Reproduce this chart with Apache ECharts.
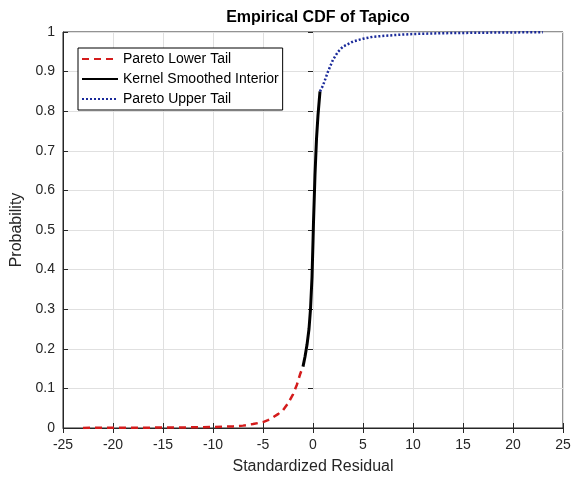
<!DOCTYPE html>
<html>
<head>
<meta charset="utf-8">
<script src="https://cdn.jsdelivr.net/npm/echarts@6/dist/echarts.min.js"></script>
<style>
  html, body { margin: 0; padding: 0; background: #fff; }
  #chart { width: 573px; height: 477px; }
</style>
</head>
<body>
<div id="chart"></div>
<script>
// values: [standardized residual, probability]
const lowerTail = [
  [-23, 0.0003], [-20, 0.0005], [-17, 0.0008], [-14, 0.0012], [-12, 0.0017],
  [-10, 0.0025], [-8, 0.004], [-7, 0.006], [-6, 0.010], [-5, 0.015],
  [-4.5, 0.020], [-4, 0.027], [-3.5, 0.035], [-3, 0.045], [-2.5, 0.062],
  [-2, 0.085], [-1.6, 0.11], [-1.3, 0.135], [-1.0, 0.155]
];
const kernelInterior = [
  [-1.0, 0.155], [-0.8, 0.18], [-0.6, 0.21], [-0.4, 0.25], [-0.25, 0.30],
  [-0.1, 0.38], [0.0, 0.47], [0.05, 0.52], [0.1, 0.56], [0.2, 0.64],
  [0.35, 0.73], [0.5, 0.79], [0.7, 0.85]
];
const upperTail = [
  [0.7, 0.85], [1.0, 0.865], [1.5, 0.9], [2.0, 0.93], [2.5, 0.95],
  [3.0, 0.963], [4.0, 0.976], [5.0, 0.983], [6.0, 0.988], [8.0, 0.992],
  [10, 0.995], [13, 0.997], [16, 0.998], [20, 0.999], [23, 0.9993]
];
const seriesNames = ['Pareto Lower Tail', 'Kernel Smoothed Interior', 'Pareto Upper Tail'];

const axisColor = '#262626';
const font = 'Liberation Sans, Arial, Helvetica, sans-serif';

const chart = echarts.init(document.getElementById('chart'));

const tickOnly = {
  axisLine: { show: false },
  axisTick: { show: true, inside: true, length: 5, lineStyle: { color: axisColor } },
  axisLabel: { show: false },
  splitLine: { show: false }
};

chart.setOption({
  backgroundColor: '#fff',
  animation: false,
  title: {
    text: 'Empirical CDF of Tapico',
    left: 313, top: 5, textAlign: 'center',
    textStyle: { fontFamily: font, fontSize: 16, fontWeight: 'bold', color: '#000' }
  },
  grid: {
    left: 63, right: 10, top: 32, bottom: 49,
    outerBoundsMode: 'none', containLabel: false,
    show: true, borderColor: axisColor, borderWidth: 1, backgroundColor: '#fff'
  },
  legend: {
    orient: 'vertical', left: 78, top: 48,
    data: seriesNames,
    backgroundColor: '#fff', borderColor: '#000', borderWidth: 1,
    padding: [2, 4, 2, 3],
    itemWidth: 36, itemHeight: 12, itemGap: 2,
    itemStyle: { opacity: 0 },
    textStyle: { fontFamily: font, fontSize: 14, color: '#000', lineHeight: 18 }
  },
  xAxis: [{
    type: 'value', min: -25, max: 25, interval: 5,
    name: 'Standardized Residual', nameLocation: 'middle', nameGap: 31,
    nameTextStyle: { fontFamily: font, fontSize: 16, color: axisColor },
    axisLine: { show: true, onZero: false, lineStyle: { color: axisColor } },
    axisTick: { inside: true, length: 5, lineStyle: { color: axisColor } },
    axisLabel: { fontFamily: font, fontSize: 14, color: axisColor, margin: 10 },
    splitLine: { show: true, lineStyle: { color: '#e0e0e0', width: 1 } }
  }, Object.assign({ type: 'value', min: -25, max: 25, interval: 5, position: 'top' }, tickOnly)],
  yAxis: [{
    type: 'value', min: 0, max: 1, interval: 0.1,
    name: 'Probability', nameLocation: 'middle', nameGap: 33,
    nameTextStyle: { fontFamily: font, fontSize: 16, color: axisColor },
    axisLine: { show: true, onZero: false, lineStyle: { color: axisColor } },
    axisTick: { show: true, inside: true, length: 5, lineStyle: { color: axisColor } },
    axisLabel: { fontFamily: font, fontSize: 14, color: axisColor, margin: 8 },
    splitLine: { show: true, lineStyle: { color: '#e0e0e0', width: 1 } }
  }, Object.assign({ type: 'value', min: 0, max: 1, interval: 0.1, position: 'right' }, tickOnly)],
  series: [
    {
      name: seriesNames[0], type: 'line', data: lowerTail, symbol: 'none',
      lineStyle: { color: '#d41c1c', width: 2.5, type: [7, 5] },
      itemStyle: { color: '#d41c1c' }
    },
    {
      name: seriesNames[1], type: 'line', data: kernelInterior, symbol: 'none',
      lineStyle: { color: '#000', width: 3, type: 'solid' },
      itemStyle: { color: '#000' }
    },
    {
      name: seriesNames[2], type: 'line', data: upperTail, symbol: 'none',
      lineStyle: { color: '#1a2a9a', width: 2.5, type: [2, 2] },
      itemStyle: { color: '#1a2a9a' }
    }
  ]
});
</script>
</body>
</html>
